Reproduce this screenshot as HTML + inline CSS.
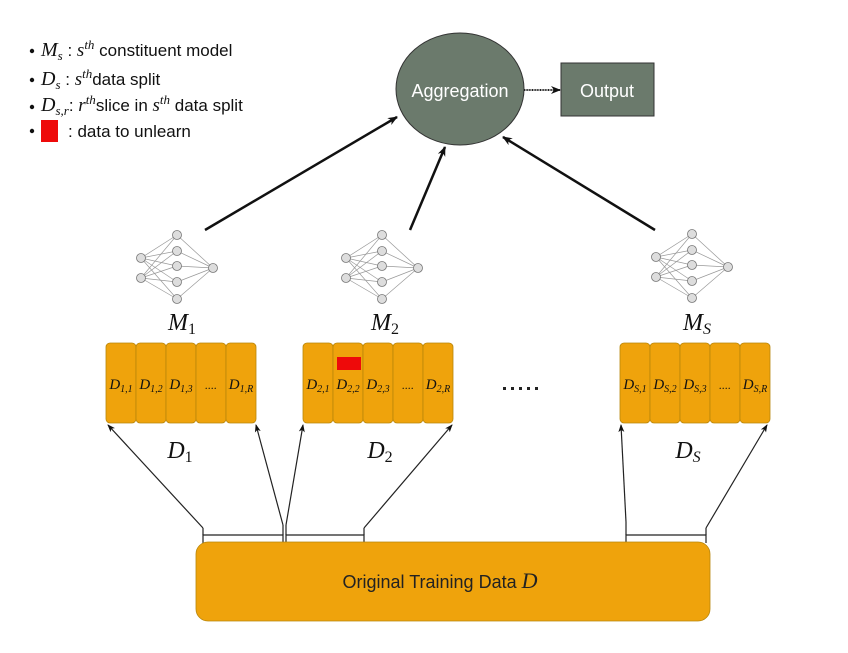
<!DOCTYPE html>
<html><head><meta charset="utf-8"><style>
body{margin:0;background:#fff;}
svg{display:block}
text{font-family:"Liberation Sans",sans-serif;}
text.m,tspan.m{font-family:"Liberation Serif",serif;font-style:italic;}
</style></head><body>
<svg id="s" width="848" height="653" viewBox="0 0 848 653" xmlns="http://www.w3.org/2000/svg">
<defs>
<marker id="ah" markerWidth="10" markerHeight="10" refX="9" refY="5" orient="auto" markerUnits="userSpaceOnUse"><path d="M0,1 L10,5 L0,9 L3,5 z" fill="#111"/></marker>
<marker id="as" markerWidth="8" markerHeight="8" refX="7" refY="4" orient="auto" markerUnits="userSpaceOnUse"><path d="M0,1 L8,4 L0,7 L2,4 z" fill="#111"/></marker>
</defs>
<g font-size="17" fill="#111">
<circle cx="32" cy="51" r="2.2" fill="#111"/>
<text x="41" y="56"><tspan class="m" font-size="20">M</tspan><tspan class="m" font-size="13" dy="4">s</tspan><tspan dy="-4"> : </tspan><tspan class="m" font-size="19">s</tspan><tspan class="m" font-size="13" dy="-7">th</tspan><tspan dy="7"> constituent model</tspan></text>
<circle cx="32" cy="80" r="2.2" fill="#111"/>
<text x="41" y="85"><tspan class="m" font-size="20">D</tspan><tspan class="m" font-size="13" dy="4">s</tspan><tspan dy="-4">  : </tspan><tspan class="m" font-size="19">s</tspan><tspan class="m" font-size="13" dy="-7">th</tspan><tspan dy="7">data split</tspan></text>
<circle cx="32" cy="107" r="2.2" fill="#111"/>
<text x="41" y="111"><tspan class="m" font-size="20">D</tspan><tspan class="m" font-size="13" dy="4">s,r</tspan><tspan dy="-4">: </tspan><tspan class="m" font-size="19">r</tspan><tspan class="m" font-size="13" dy="-7">th</tspan><tspan dy="7">slice in </tspan><tspan class="m" font-size="19">s</tspan><tspan class="m" font-size="13" dy="-7">th</tspan><tspan dy="7"> data split</tspan></text>
<circle cx="32" cy="131" r="2.2" fill="#111"/>
<rect x="41" y="120" width="17" height="22" fill="#ee0a0a"/>
<text x="68" y="137">: data to unlearn</text>
</g>
<ellipse cx="460" cy="89" rx="64" ry="56" fill="#6b7a6c" stroke="#333" stroke-width="1"/>
<text x="460" y="97" font-size="18" fill="#fff" text-anchor="middle">Aggregation</text>
<rect x="561" y="63" width="93" height="53" fill="#6b7a6c" stroke="#333" stroke-width="1"/>
<text x="607" y="97" font-size="18" fill="#fff" text-anchor="middle">Output</text>
<line x1="524" y1="90" x2="560" y2="90" stroke="#222" stroke-width="2" stroke-dasharray="1 0.6" marker-end="url(#ah)"/>
<line x1="205" y1="230" x2="397" y2="117" stroke="#111" stroke-width="2.5" marker-end="url(#ah)"/>
<line x1="410" y1="230" x2="445" y2="147" stroke="#111" stroke-width="2.5" marker-end="url(#ah)"/>
<line x1="655" y1="230" x2="503" y2="137" stroke="#111" stroke-width="2.5" marker-end="url(#ah)"/>
<g id="nets"></g>
<g font-size="24" fill="#111" text-anchor="middle">
<text class="m" x="182" y="330">M<tspan font-size="16" font-style="normal" dy="4">1</tspan></text>
<text class="m" x="385" y="330">M<tspan font-size="16" font-style="normal" dy="4">2</tspan></text>
<text class="m" x="697" y="330">M<tspan font-size="16" dy="4">S</tspan></text>
<text class="m" x="180" y="458">D<tspan font-size="16" font-style="normal" dy="4">1</tspan></text>
<text class="m" x="380" y="458">D<tspan font-size="16" font-style="normal" dy="4">2</tspan></text>
<text class="m" x="688" y="458">D<tspan font-size="16" dy="4">S</tspan></text>
</g>
<g id="slices"></g>
<rect x="337" y="357" width="24" height="13" fill="#ee0a0a"/>
<g fill="#222"><rect x="503" y="387" width="3" height="3"/><rect x="511" y="387" width="3" height="3"/><rect x="519" y="387" width="3" height="3"/><rect x="527" y="387" width="3" height="3"/><rect x="535" y="387" width="3" height="3"/></g>
<g stroke="#222" stroke-width="1.2" fill="none">
<polyline points="203,543 203,535 283,535 283,543"/>
<polyline points="286,543 286,535 364,535 364,543"/>
<polyline points="626,543 626,535 706,535 706,543"/>
<line x1="203" y1="528" x2="203" y2="535"/><line x1="283" y1="525" x2="283" y2="535"/><line x1="286" y1="525" x2="286" y2="535"/><line x1="364" y1="528" x2="364" y2="535"/><line x1="626" y1="522" x2="626" y2="535"/><line x1="706" y1="528" x2="706" y2="535"/>
<line x1="203" y1="528" x2="108" y2="425" marker-end="url(#as)"/>
<line x1="283" y1="525" x2="256" y2="425" marker-end="url(#as)"/>
<line x1="286" y1="525" x2="303" y2="425" marker-end="url(#as)"/>
<line x1="364" y1="528" x2="452" y2="425" marker-end="url(#as)"/>
<line x1="626" y1="522" x2="621" y2="425" marker-end="url(#as)"/>
<line x1="706" y1="528" x2="767" y2="425" marker-end="url(#as)"/>
</g>
<rect x="196" y="542" width="514" height="79" rx="12" fill="#efa30c" stroke="#b8860b" stroke-width="0.8"/>
<text x="440" y="588" font-size="18" fill="#222" text-anchor="middle">Original Training Data <tspan class="m" font-size="22">D</tspan></text>
</svg>
<script>
var ns="http://www.w3.org/2000/svg";
function el(p,t,a){var e=document.createElementNS(ns,t);for(var k in a)e.setAttribute(k,a[k]);p.appendChild(e);return e;}
var g=document.getElementById("nets");
[[141,0],[346,0],[656,-1]].forEach(function(o){var x=o[0],dy=o[1];
var ins=[[x,258+dy],[x,278+dy]],hid=[235,251,266,282,299].map(function(y){return[x+36,y+dy]}),out=[[x+72,268+dy]];
ins.forEach(function(a){hid.forEach(function(b){el(g,"line",{x1:a[0],y1:a[1],x2:b[0],y2:b[1],stroke:"#999","stroke-width":0.7})})});
hid.forEach(function(a){el(g,"line",{x1:a[0],y1:a[1],x2:out[0][0],y2:out[0][1],stroke:"#999","stroke-width":0.7})});
ins.concat(hid,out).forEach(function(a){el(g,"circle",{cx:a[0],cy:a[1],r:4.5,fill:"#ddd",stroke:"#777","stroke-width":0.8})});});
var s=document.getElementById("slices");
[[106,"1"],[303,"2"],[620,"S"]].forEach(function(o){for(var i=0;i<5;i++){var x=o[0]+i*30;
el(s,"rect",{x:x,y:343,width:30,height:80,rx:4,fill:"#efa30c",stroke:"#b8860b","stroke-width":0.8});
var t=el(s,"text",{x:x+15,y:389,"text-anchor":"middle","font-size":i==3?12:15,fill:"#111","class":"m"});
if(i==3){t.textContent="....";t.setAttribute("font-style","normal");}
else{t.textContent="D";var sp=el(t,"tspan",{"font-size":10,dy:3});sp.textContent=o[1]+","+(i==4?"R":(i+1));}}});
</script>
</body></html>
